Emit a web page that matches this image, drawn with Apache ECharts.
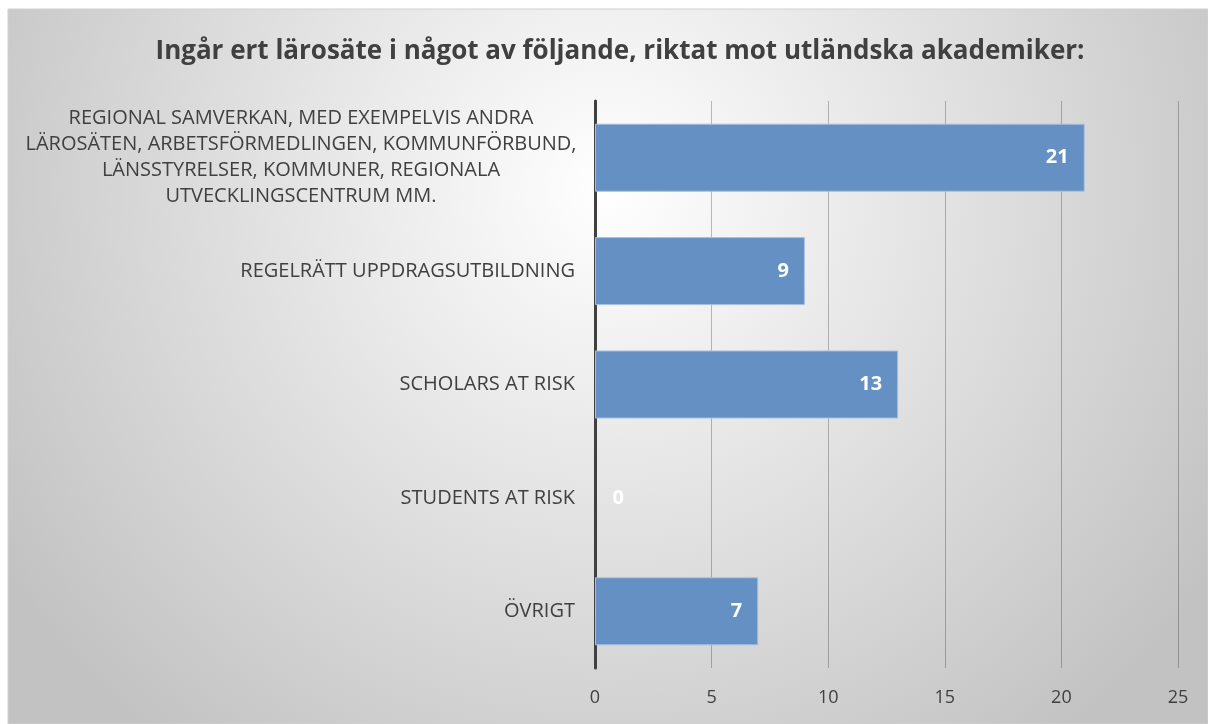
<!DOCTYPE html>
<html>
<head>
<meta charset="utf-8">
<script src="https://cdn.jsdelivr.net/npm/echarts@6/dist/echarts.min.js"></script>
<style>
  html, body { margin: 0; padding: 0; background: #ffffff; }
  #main { width: 1208px; height: 724px; }
</style>
</head>
<body>
<div id="main"></div>
<script>
var titleText = 'Ingår ert lärosäte i något av följande, riktat mot utländska akademiker:';
var categories = [
    'REGIONAL SAMVERKAN, MED EXEMPELVIS ANDRA\nLÄROSÄTEN, ARBETSFÖRMEDLINGEN, KOMMUNFÖRBUND,\nLÄNSSTYRELSER, KOMMUNER, REGIONALA\nUTVECKLINGSCENTRUM MM.',
    'REGELRÄTT UPPDRAGSUTBILDNING',
    'SCHOLARS AT RISK',
    'STUDENTS AT RISK',
    'ÖVRIGT'
];
var counts = [21, 9, 13, 0, 7];
var axisMax = 25;
var axisStep = 5;

var font = '"Open Sans", "Noto Sans", sans-serif';

var chart = echarts.init(document.getElementById('main'));

/* zero bars get their label outside the bar, like Excel's inside end */
var barData = counts.map(function (v) {
    if (v === 0) {
        return {
            value: v,
            itemStyle: { borderColor: 'transparent' },
            label: { position: 'right', distance: 17 }
        };
    }
    return v;
});

var option = {
    backgroundColor: '#ffffff',
    textStyle: { fontFamily: font },
    graphic: [{
        type: 'rect',
        z: -10,
        silent: true,
        shape: { x: 8, y: 9, width: 1200, height: 715 },
        style: {
            fill: new echarts.graphic.RadialGradient(0.5, 0.25, 1.0, [
                { offset: 0, color: '#ffffff' },
                { offset: 1, color: '#c2c2c2' }
            ]),
            stroke: '#d0d0d0',
            lineWidth: 1
        }
    }],
    title: {
        text: titleText,
        left: 615,
        textAlign: 'center',
        top: 34,
        textStyle: {
            fontFamily: font,
            fontSize: 26,
            fontWeight: 'bold',
            color: '#404040'
        }
    },
    grid: {
        left: 595,
        right: 1208 - 1178,
        top: 101,
        bottom: 724 - 668,
        containLabel: false
    },
    xAxis: {
        type: 'value',
        min: 0,
        max: axisMax,
        interval: axisStep,
        axisLine: { show: false },
        axisTick: { show: false },
        axisLabel: {
            margin: 21,
            fontSize: 18,
            color: '#404040',
            fontFamily: font
        },
        splitLine: {
            show: true,
            lineStyle: { color: 'rgba(0,0,0,0.25)', width: 1 }
        }
    },
    yAxis: {
        type: 'category',
        data: categories,
        inverse: true,
        axisLine: { show: true, lineStyle: { color: '#404040', width: 3 } },
        axisTick: { show: false },
        axisLabel: {
            margin: 20,
            fontSize: 20,
            lineHeight: 26,
            color: '#404040',
            fontFamily: font,
            formatter: function (val) {
                if (val.indexOf('\n') >= 0) {
                    return '{c|' + val + '}';
                }
                return val;
            },
            rich: {
                c: {
                    width: 548,
                    align: 'center',
                    fontSize: 20,
                    lineHeight: 26,
                    color: '#404040',
                    fontFamily: font
                }
            }
        }
    },
    series: [{
        type: 'bar',
        data: barData,
        barCategoryGap: '40%',
        itemStyle: {
            color: '#6490c4',
            borderColor: '#a8c0de',
            borderWidth: 1
        },
        label: {
            show: true,
            position: 'insideRight',
            distance: 16,
            color: '#ffffff',
            fontSize: 20,
            fontWeight: 'bold',
            fontFamily: font
        }
    }]
};

chart.setOption(option);
</script>
</body>
</html>
